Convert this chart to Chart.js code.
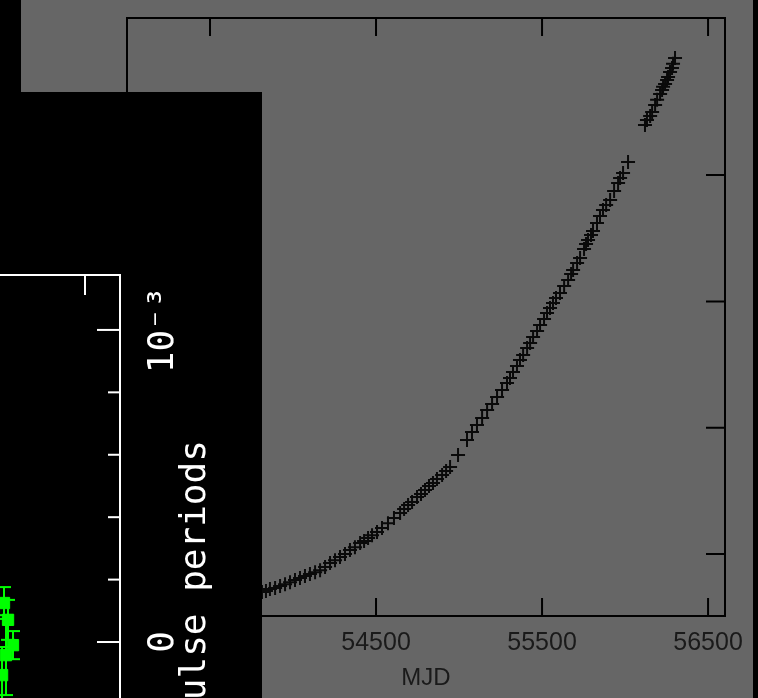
<!DOCTYPE html>
<html>
<head>
<meta charset="utf-8">
<script src="https://cdn.jsdelivr.net/npm/chart.js@4.4.1/dist/chart.umd.min.js"></script>
<style>
  html, body { margin: 0; padding: 0; background: #000; width: 758px; height: 698px; overflow: hidden; }
  #timing { position: absolute; left: 21px; top: 0; background: #666; }
  /* the residual panel is drawn sideways and turned a quarter turn */
  #panel { position: absolute; left: -60px; top: 92px; width: 900px; height: 322px;
           transform-origin: 0 0; transform: translate(0, 900px) rotate(-90deg); }
  #resid { display: block; background: #000; }
</style>
</head>
<body>
<canvas id="timing" width="732" height="698"></canvas>
<div id="panel"><canvas id="resid" width="900" height="322"></canvas></div>
<script>
// main panel: phase vs MJD
const xTicks = [53500, 54500, 55500, 56500];
const yTicks = [0, 1, 2, 3];
const mjd = [
  53620, 53711, 53813, 53837, 53861, 53892, 53922, 53952, 53982, 54012,
  54042, 54072, 54102, 54133, 54163, 54193, 54223, 54253, 54283, 54313,
  54343, 54373, 54404, 54428, 54452, 54476, 54506, 54536, 54572, 54608,
  54645, 54669, 54693, 54717, 54747, 54771, 54795, 54819, 54843, 54867,
  54898, 54922, 54946, 54994, 55048, 55078, 55108, 55139, 55169, 55199,
  55229, 55259, 55289, 55307, 55325, 55349, 55367, 55386, 55410, 55428,
  55446, 55470, 55488, 55512, 55530, 55548, 55566, 55584, 55608, 55633,
  55657, 55675, 55687, 55711, 55729, 55753, 55765, 55777, 55795, 55807,
  55831, 55849, 55867, 55886, 55910, 55934, 55958, 55970, 55988, 56018,
  56120, 56132, 56151, 56163, 56181, 56193, 56211, 56223, 56229, 56241,
  56253, 56259, 56271, 56283, 56289, 56301];
const phase = [
  -0.388, -0.348, -0.301, -0.293, -0.277, -0.269, -0.253, -0.238, -0.222, -0.206,
  -0.190, -0.174, -0.158, -0.143, -0.127, -0.103, -0.071, -0.048, -0.024, 0.000,
  0.032, 0.055, 0.087, 0.103, 0.127, 0.150, 0.174, 0.206, 0.245, 0.285,
  0.325, 0.356, 0.388, 0.412, 0.451, 0.475, 0.507, 0.538, 0.562, 0.594,
  0.625, 0.657, 0.689, 0.784, 0.903, 0.966, 1.021, 1.077, 1.140, 1.188,
  1.243, 1.298, 1.354, 1.394, 1.441, 1.489, 1.536, 1.576, 1.631, 1.671,
  1.718, 1.766, 1.813, 1.861, 1.908, 1.948, 1.987, 2.027, 2.067, 2.122,
  2.169, 2.217, 2.249, 2.304, 2.344, 2.415, 2.454, 2.486, 2.526, 2.557,
  2.621, 2.676, 2.724, 2.763, 2.803, 2.874, 2.937, 2.977, 3.017, 3.104,
  3.397, 3.436, 3.468, 3.500, 3.555, 3.595, 3.642, 3.674, 3.698, 3.721,
  3.753, 3.777, 3.816, 3.848, 3.880, 3.927];

// overlaid panel: residuals in pulse periods
const residTicks = [-0.0006, -0.0004, -0.0002, 0, 0.0002, 0.0004, 0.0006, 0.0008, 0.001];
const residMajor = [0, 0.001];
const residMjdTicks = [54000];
const residMjd = [53362, 53377, 53392, 53408, 53446];
const residVal = [-0.000106, 0.000125, -0.000042, 0.000071, -0.000010];
const residErr = [0.000090, 0.000051, 0.000128, 0.000064, 0.000045];

function isMajor(v) {
  return residMajor.some(m => Math.abs(m - v) < 1e-12);
}

// frame with ticks pointing into the plot, like the original
function innerTicks(color, width, xLen, yLen) {
  return {
    id: 'innerTicks',
    afterDatasetsDraw(chart) {
      const {ctx, chartArea: a, scales: {x, y}} = chart;
      ctx.save();
      ctx.strokeStyle = color;
      ctx.lineWidth = width;
      ctx.strokeRect(a.left, a.top, a.right - a.left, a.bottom - a.top);
      ctx.beginPath();
      x.ticks.forEach(t => {
        const px = x.getPixelForValue(t.value), len = xLen(t.value);
        ctx.moveTo(px, a.bottom); ctx.lineTo(px, a.bottom - len);
        ctx.moveTo(px, a.top); ctx.lineTo(px, a.top + len);
      });
      y.ticks.forEach(t => {
        const py = y.getPixelForValue(t.value), len = yLen(t.value);
        ctx.moveTo(a.left, py); ctx.lineTo(a.left + len, py);
        ctx.moveTo(a.right, py); ctx.lineTo(a.right - len, py);
      });
      ctx.stroke();
      ctx.restore();
    }
  };
}

const errorBars = {
  id: 'errorBars',
  beforeDatasetsDraw(chart) {
    const {ctx, scales: {x, y}} = chart;
    ctx.save();
    ctx.strokeStyle = '#00ff00';
    ctx.lineWidth = 2;
    ctx.beginPath();
    residVal.forEach((r, i) => {
      const py = y.getPixelForValue(residMjd[i]);
      const x1 = x.getPixelForValue(r - residErr[i]);
      const x2 = x.getPixelForValue(r + residErr[i]);
      ctx.moveTo(x1, py); ctx.lineTo(x2, py);
      ctx.moveTo(x1, py - 7); ctx.lineTo(x1, py + 7);
      ctx.moveTo(x2, py - 7); ctx.lineTo(x2, py + 7);
    });
    ctx.stroke();
    ctx.restore();
  }
};

const textColor = '#1a1a1a';

new Chart(document.getElementById('timing'), {
  type: 'scatter',
  data: {
    datasets: [{
      data: mjd.map((m, i) => ({x: m, y: phase[i]})),
      pointStyle: 'cross',
      radius: 7,
      borderWidth: 2,
      borderColor: '#0a0a0a'
    }]
  },
  options: {
    responsive: false,
    animation: false,
    events: [],
    layout: { padding: { left: 106, right: 28, top: 18, bottom: 0 } },
    plugins: { legend: { display: false }, tooltip: { enabled: false } },
    scales: {
      x: {
        type: 'linear', min: 53000, max: 56602,
        afterBuildTicks: s => { s.ticks = xTicks.map(v => ({value: v})); },
        afterFit: s => { s.paddingRight = 0; },
        grid: { display: false, drawTicks: false },
        border: { display: false },
        ticks: {
          color: textColor, padding: 12, autoSkip: false, maxRotation: 0,
          font: { family: 'Liberation Sans, Arial, sans-serif', size: 25, lineHeight: 1.2 },
          callback: v => String(v)
        },
        title: {
          display: true, text: 'MJD', color: textColor,
          font: { family: 'Liberation Sans, Arial, sans-serif', size: 24, lineHeight: 1.2 },
          padding: { top: -6.4, bottom: 5.6 }
        }
      },
      y: {
        type: 'linear', min: -0.49, max: 4.243,
        afterBuildTicks: s => { s.ticks = yTicks.map(v => ({value: v})); },
        grid: { display: false, drawTicks: false },
        border: { display: false },
        ticks: { display: false }
      }
    }
  },
  plugins: [innerTicks('#000', 2, () => 18, () => 19)]
});

const monoFont = 'DejaVu Sans Mono, monospace';

new Chart(document.getElementById('resid'), {
  type: 'scatter',
  data: {
    datasets: [{
      data: residVal.map((r, i) => ({x: r, y: residMjd[i]})),
      pointStyle: 'rect',
      radius: 8,
      backgroundColor: '#00ff00',
      borderColor: '#00ff00'
    }]
  },
  options: {
    responsive: false,
    animation: false,
    events: [],
    layout: { padding: { left: 105, right: 183, top: 20, bottom: 0 } },
    plugins: { legend: { display: false }, tooltip: { enabled: false } },
    scales: {
      x: {
        type: 'linear', min: -0.000785, max: 0.001176,
        afterBuildTicks: s => { s.ticks = residTicks.map(v => ({value: v})); },
        grid: { display: false, drawTicks: false },
        border: { display: false },
        ticks: {
          color: '#fff', padding: 26, autoSkip: false, maxRotation: 0,
          font: { family: monoFont, size: 36, lineHeight: 1 },
          callback: v => Math.abs(v) < 1e-12 ? '0' : (Math.abs(v - 0.001) < 1e-12 ? '10\u207B\u00B3' : '')
        },
        title: {
          display: true, text: 'pulse periods', color: '#fff',
          font: { family: monoFont, size: 36, lineHeight: 1 },
          padding: { top: -30.5, bottom: 48.5 }
        }
      },
      y: {
        type: 'linear', min: 53038.5, max: 54269, reverse: true,
        afterBuildTicks: s => { s.ticks = residMjdTicks.map(v => ({value: v})); },
        grid: { display: false, drawTicks: false },
        border: { display: false },
        ticks: { display: false }
      }
    }
  },
  plugins: [errorBars, innerTicks('#fff', 2, v => isMajor(v) ? 23 : 12, () => 20)]
});
</script>
</body>
</html>
